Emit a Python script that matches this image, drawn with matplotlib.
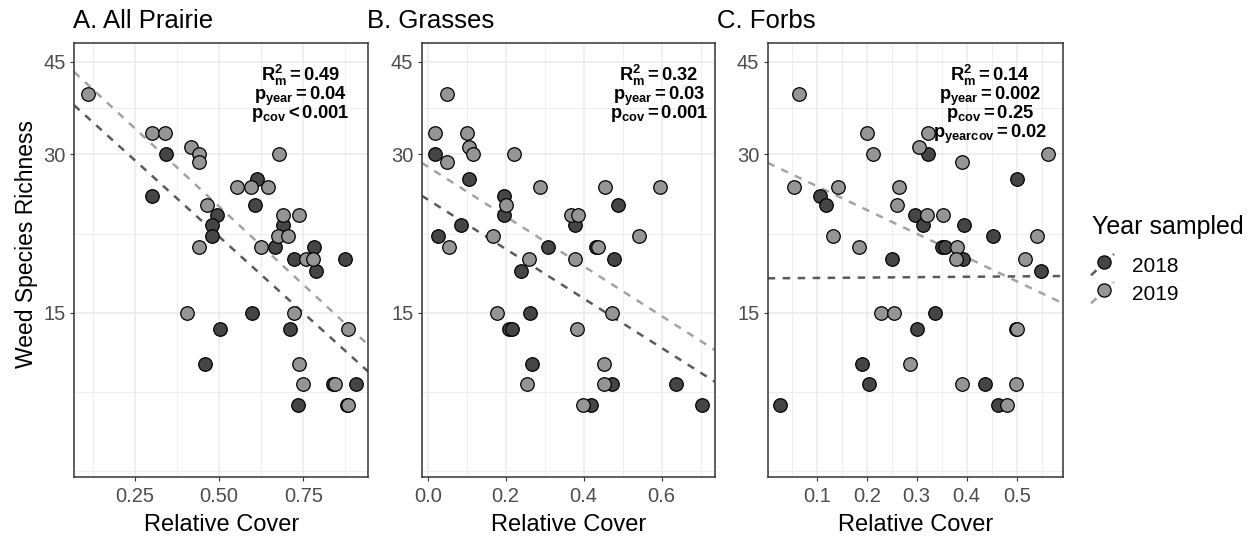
import numpy as np
import matplotlib
matplotlib.use("Agg")
import matplotlib.pyplot as plt
from matplotlib.lines import Line2D
from matplotlib.legend_handler import HandlerBase
from matplotlib.ticker import NullFormatter

plt.rcParams["font.family"] = ["Liberation Sans", "DejaVu Sans"]
plt.rcParams["mathtext.fontset"] = "custom"
plt.rcParams["mathtext.rm"] = "Liberation Sans"
plt.rcParams["mathtext.it"] = "Liberation Sans:italic"
plt.rcParams["mathtext.bf"] = "Liberation Sans:bold"

# --- data (relative cover vs weed species richness) ---
years = ["2018", "2019"]

a_x18 = [0.341, 0.300, 0.611, 0.608, 0.493, 0.480, 0.480, 0.691, 0.666, 0.783, 0.723,
         0.874, 0.787, 0.598, 0.503, 0.710, 0.458, 0.839, 0.906, 0.733, 0.880]
a_y18 = [30, 25, 27, 24, 23, 22, 21, 22, 20, 20, 19, 19, 18, 15, 14, 14, 12, 11, 11, 10, 10]
a_x19 = [0.111, 0.300, 0.339, 0.415, 0.440, 0.440, 0.554, 0.594, 0.646, 0.678, 0.463, 0.440, 0.691,
         0.737, 0.674, 0.705, 0.623, 0.758, 0.780, 0.404, 0.723, 0.884, 0.737, 0.750, 0.844, 0.884]
a_y19 = [39, 33, 33, 31, 30, 29, 26, 26, 26, 30, 24, 20, 23, 23, 21, 21, 20, 19, 19, 15, 15, 14, 12, 11, 11, 10]

b_x18 = [0.019, 0.107, 0.027, 0.085, 0.196, 0.196, 0.308, 0.239, 0.379, 0.489, 0.432, 0.478,
         0.262, 0.208, 0.215, 0.268, 0.472, 0.637, 0.420, 0.704]
b_y18 = [30, 27, 21, 22, 25, 23, 20, 18, 22, 24, 20, 19, 15, 14, 14, 12, 11, 11, 10, 10]
b_x19 = [0.049, 0.019, 0.050, 0.100, 0.107, 0.115, 0.222, 0.055, 0.168, 0.200, 0.288, 0.260, 0.367,
         0.386, 0.379, 0.455, 0.596, 0.543, 0.438, 0.179, 0.472, 0.384, 0.453, 0.255, 0.453, 0.399]
b_y19 = [39, 33, 29, 33, 31, 30, 30, 20, 21, 24, 26, 19, 23, 23, 19, 26, 26, 21, 20, 15, 15, 14, 12, 11, 11, 10]

c_x18 = [0.107, 0.119, 0.250, 0.323, 0.297, 0.313, 0.350, 0.357, 0.393, 0.395, 0.453,
         0.501, 0.548, 0.337, 0.300, 0.499, 0.190, 0.205, 0.437, 0.027, 0.463]
c_y18 = [25, 24, 19, 30, 23, 22, 20, 20, 19, 22, 21, 27, 18, 15, 14, 14, 12, 11, 11, 10, 10]
c_x19 = [0.065, 0.055, 0.143, 0.133, 0.200, 0.213, 0.185, 0.265, 0.261, 0.323, 0.305, 0.321, 0.353,
         0.380, 0.378, 0.391, 0.517, 0.540, 0.563, 0.229, 0.255, 0.501, 0.287, 0.391, 0.499, 0.480]
c_y19 = [39, 26, 26, 21, 33, 30, 20, 26, 24, 33, 31, 23, 23, 20, 19, 29, 19, 21, 30, 15, 15, 14, 12, 11, 11, 10]

# fitted lines: log10(richness) = intercept + slope * cover
a_fit = [(1.6108, -0.5798), (1.6751, -0.5941)]
b_fit = [(1.3915, -0.4703), (1.4540, -0.4734)]
c_fit = [(1.2416, 0.0074), (1.4622, -0.4525)]

a_stats = [r"$\mathbf{R^2_m = 0.49}$", r"$\mathbf{p_{year} = 0.04}$", r"$\mathbf{p_{cov} < 0.001}$"]
b_stats = [r"$\mathbf{R^2_m = 0.32}$", r"$\mathbf{p_{year} = 0.03}$", r"$\mathbf{p_{cov} = 0.001}$"]
c_stats = [r"$\mathbf{R^2_m = 0.14}$", r"$\mathbf{p_{year} = 0.002}$", r"$\mathbf{p_{cov} = 0.25}$",
           r"$\mathbf{p_{yearcov} = 0.02}$"]

titles = ["A. All Prairie", "B. Grasses", "C. Forbs"]
y_ticks = [15, 30, 45]

# --- styling ---
FILL = {"2018": "#454545", "2019": "#959595"}
LINE = {"2018": "#5a5a5a", "2019": "#a3a3a3"}
GRID = "#EBEBEB"
BORDER = "#333333"
TICKTXT = "#4D4D4D"

panels = [
    dict(title=titles[0], pts=[(a_x18, a_y18), (a_x19, a_y19)], fit=a_fit, stats=a_stats,
         rect=[74, 368.3], xlim=(0.069, 0.943), xt=[0.25, 0.50, 0.75], fmt="{:.2f}",
         xminor=[0.125, 0.375, 0.625, 0.875], title_x=73, stat_x=0.770),
    dict(title=titles[1], pts=[(b_x18, b_y18), (b_x19, b_y19)], fit=b_fit, stats=b_stats,
         rect=[421.7, 715], xlim=(-0.0154, 0.737), xt=[0.0, 0.2, 0.4, 0.6], fmt="{:.1f}",
         xminor=[0.1, 0.3, 0.5, 0.7], title_x=367, stat_x=0.809),
    dict(title=titles[2], pts=[(c_x18, c_y18), (c_x19, c_y19)], fit=c_fit, stats=c_stats,
         rect=[767.7, 1062.7], xlim=(0.002, 0.592), xt=[0.1, 0.2, 0.3, 0.4, 0.5], fmt="{:.1f}",
         xminor=[0.05, 0.15, 0.25, 0.35, 0.45, 0.55], title_x=717, stat_x=0.754),
]

W, H = 1255, 539
top_px, bot_px = 43, 476.7
ylim = (7.32, 48.86)
y_minor = [7.5, np.sqrt(15 * 7.5), np.sqrt(15 * 30), np.sqrt(30 * 45)]
stat_y = [0.912, 0.869, 0.826, 0.781]

fig = plt.figure(figsize=(W / 100, H / 100), dpi=100)

for i, p in enumerate(panels):
    x0, x1 = p["rect"]
    ax = fig.add_axes([x0 / W, 1 - bot_px / H, (x1 - x0) / W, (bot_px - top_px) / H])
    ax.set_yscale("log")
    ax.set_xlim(*p["xlim"])
    ax.set_ylim(*ylim)

    ax.set_yticks(y_ticks)
    ax.set_yticklabels([str(t) for t in y_ticks])
    ax.set_yticks(y_minor, minor=True)
    ax.yaxis.set_minor_formatter(NullFormatter())
    ax.set_xticks(p["xt"])
    ax.set_xticklabels([p["fmt"].format(t) for t in p["xt"]])
    ax.set_xticks(p["xminor"], minor=True)

    ax.grid(which="major", color=GRID, lw=1.1)
    ax.grid(which="minor", color=GRID, lw=0.6)
    ax.set_axisbelow(True)
    ax.tick_params(which="major", length=3, width=0.8, color=BORDER, labelcolor=TICKTXT,
                   labelsize=14.5, pad=3)
    ax.tick_params(axis="x", which="major", pad=4.5)
    ax.tick_params(which="minor", length=0)
    for s in ax.spines.values():
        s.set_color(BORDER)
        s.set_linewidth(1.1)

    xs = np.linspace(p["xlim"][0], p["xlim"][1], 100)
    for (icpt, slope), yr in zip(p["fit"], years):
        ax.plot(xs, 10 ** (icpt + slope * xs), color=LINE[yr], lw=1.8,
                linestyle=(0, (3, 3)), zorder=2)
    for (px, py), yr in zip(p["pts"], years):
        ax.scatter(px, py, s=95, color=FILL[yr], edgecolor="black", linewidth=0.9, zorder=3)

    for txt, yy in zip(p["stats"], stat_y):
        ax.text(p["stat_x"], yy, txt, transform=ax.transAxes, ha="center", va="baseline",
                fontsize=13.2, color="black")

    ax.set_xlabel("Relative Cover", fontsize=17, labelpad=6)
    fig.text(p["title_x"] / W, 1 - 28.3 / H, p["title"], ha="left", va="baseline", fontsize=18.5)

fig.text(33 / W, 1 - 243.5 / H, "Weed Species Richness", rotation=90, rotation_mode="anchor",
         ha="center", va="baseline", fontsize=16.5)


class AblineKey(HandlerBase):
    def create_artists(self, legend, orig_handle, xdescent, ydescent, width, height,
                       fontsize, trans):
        x0, y0 = -xdescent, -ydescent
        seg = Line2D([x0, x0 + width], [y0 - 0.05 * height, y0 + 1.05 * height],
                     color=orig_handle.get_color(), lw=1.8, linestyle=(0, (3, 3)))
        dot = Line2D([x0 + 0.57 * width], [y0 + 0.62 * height], marker="o", ms=9.5,
                     mfc=orig_handle.get_markerfacecolor(), mec="black", mew=0.9,
                     linestyle="none")
        seg.set_transform(trans)
        dot.set_transform(trans)
        return [seg, dot]


fig.text(1092 / W, 1 - 234.3 / H, "Year sampled", ha="left", va="baseline", fontsize=18)
handles = [Line2D([], [], color=LINE[yr], marker="o", mfc=FILL[yr]) for yr in years]
leg = fig.legend(handles, years, loc="upper left",
                 bbox_to_anchor=(1091 / W, 1 - 255 / H), frameon=False, fontsize=15,
                 handler_map={Line2D: AblineKey()}, handlelength=1.1,
                 handleheight=1.05, handletextpad=0.85, labelspacing=0.35, borderpad=0,
                 borderaxespad=0)

fig.savefig("out.png", dpi=100, facecolor="white")
